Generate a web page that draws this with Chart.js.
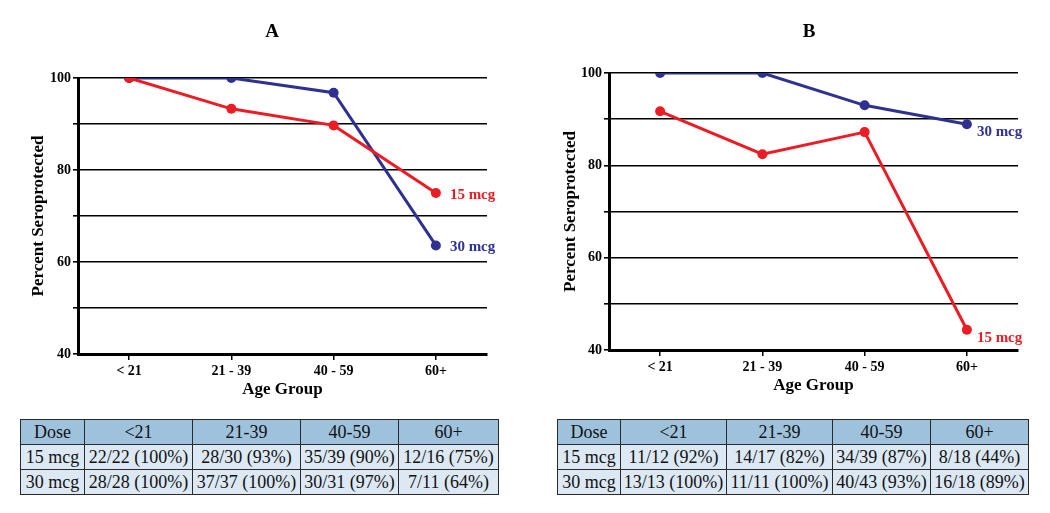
<!DOCTYPE html>
<html>
<head>
<meta charset="utf-8">
<script src="https://cdn.jsdelivr.net/npm/chart.js@4/dist/chart.umd.min.js"></script>
<style>
  body { margin: 0; background: #fff; width: 1050px; height: 513px; position: relative; overflow: hidden; }
  .panel { position: absolute; top: 0; }
  table.dose { position: absolute; border-collapse: collapse; font-family: "Liberation Serif", "Times New Roman", serif; font-size: 18px; color: #111; table-layout: fixed; }
  table.dose td { border: 1.5px solid #2a2a2a; text-align: center; padding: 0; height: 24px; line-height: 24px; white-space: nowrap; background: #dce9f4; }
  table.dose tr.hd td { background: #9fc2dc; }
</style>
</head>
<body>
<canvas id="chartA" class="panel" width="525" height="410" style="left:0"></canvas>
<canvas id="chartB" class="panel" width="525" height="410" style="left:525px"></canvas>
<table id="tabA" class="dose" style="left:20px; top:419px; width:478px"></table>
<table id="tabB" class="dose" style="left:557px; top:419px; width:471px"></table>
<script>
(function () {
  "use strict";
  var COL = { red: "#ec1c24", blue: "#2e3192", ink: "#000" };

  // categories and series (percent seroprotected)
  var ageGroups = ["< 21", "21 - 39", "40 - 59", "60+"];
  var a15 = [100, 93.3, 89.7, 75.0];
  var a30 = [100, 100, 96.8, 63.6];
  var b15 = [91.7, 82.4, 87.2, 44.4];
  var b30 = [100, 100, 93.0, 88.9];

  // table rows
  var tableHead = ["Dose", "<21", "21-39", "40-59", "60+"];
  var tabA15 = ["15 mcg", "22/22 (100%)", "28/30 (93%)", "35/39 (90%)", "12/16 (75%)"];
  var tabA30 = ["30 mcg", "28/28 (100%)", "37/37 (100%)", "30/31 (97%)", "7/11 (64%)"];
  var tabB15 = ["15 mcg", "11/12 (92%)", "14/17 (82%)", "34/39 (87%)", "8/18 (44%)"];
  var tabB30 = ["30 mcg", "13/13 (100%)", "11/11 (100%)", "40/43 (93%)", "16/18 (89%)"];

  var SERIF = "'Liberation Serif', 'Times New Roman', serif";

  // draws the panel letter and the dose labels next to the last points
  var annot = {
    id: "annot",
    afterDatasetsDraw: function (chart, args, o) {
      var ctx = chart.ctx;
      ctx.save();
      ctx.font = "bold 19px " + SERIF;
      ctx.fillStyle = COL.ink;
      ctx.textAlign = "center"; ctx.textBaseline = "middle";
      ctx.fillText(o.letter, o.letterX, 32);
      ctx.font = "bold 15px " + SERIF;
      ctx.textAlign = "left";
      chart.data.datasets.forEach(function (ds, i) {
        var meta = chart.getDatasetMeta(i);
        var pt = meta.data[meta.data.length - 1];
        ctx.fillStyle = ds.borderColor;
        ctx.fillText(ds.label, pt.x + o.dx, pt.y + o.dy[i]);
      });
      ctx.restore();
    }
  };

  function lineChart(id, s15, s30, o) {
    var c = document.getElementById(id);
    new Chart(c, {
      type: "line",
      data: {
        labels: ageGroups,
        datasets: [
          { label: "15 mcg", data: s15, borderColor: COL.red, backgroundColor: COL.red, borderWidth: 3, pointRadius: 5, pointBorderWidth: 0, tension: 0 },
          { label: "30 mcg", data: s30, borderColor: COL.blue, backgroundColor: COL.blue, borderWidth: 3, pointRadius: 5, pointBorderWidth: 0, tension: 0 }
        ]
      },
      plugins: [annot],
      options: {
        responsive: false, animation: false, devicePixelRatio: 1,
        layout: { padding: { left: 0, top: o.top, right: o.right, bottom: 0 } },
        plugins: { legend: { display: false }, tooltip: { enabled: false }, annot: o },
        scales: {
          x: {
            offset: true,
            afterFit: function (s) { s.height = 410 - o.bottom; },
            border: { color: COL.ink, width: 3 },
            grid: { drawOnChartArea: false, drawTicks: true, tickLength: 6, color: COL.ink, lineWidth: 1.5 },
            ticks: { color: COL.ink, font: { family: SERIF, weight: "bold", size: 14 }, padding: 3, maxRotation: 0 },
            title: { display: true, text: "Age Group", color: COL.ink, font: { family: SERIF, weight: "bold", size: 17 }, padding: { top: 0, bottom: o.xtPad } }
          },
          y: {
            min: 40, max: 100,
            afterFit: function (s) { s.width = o.left; },
            border: { color: COL.ink, width: 3 },
            grid: { color: COL.ink, lineWidth: 1.6, tickLength: 5 },
            ticks: { stepSize: 10, color: COL.ink, font: { family: SERIF, weight: "bold", size: 14 }, padding: 2,
              callback: function (v) { return v % 20 === 0 ? v : ""; } },
            title: { display: true, text: "Percent Seroprotected", color: COL.ink, font: { family: SERIF, weight: "bold", size: 17 }, padding: { top: o.ytPad, bottom: 0 } }
          }
        }
      }
    });
  }

  lineChart("chartA", a15, a30, { letter: "A", letterX: 272, left: 78, top: 78, right: 38, bottom: 354, xtPad: 10, ytPad: 28, dx: 14, dy: [2, 2] });
  lineChart("chartB", b15, b30, { letter: "B", letterX: 284, left: 84, top: 73, right: 32, bottom: 350, xtPad: 14, ytPad: 35, dx: 10, dy: [8, 8] });

  function fillTable(id, rows, widths) {
    var t = document.getElementById(id);
    var cg = document.createElement("colgroup");
    widths.forEach(function (w) { var col = document.createElement("col"); col.style.width = w + "px"; cg.appendChild(col); });
    t.appendChild(cg);
    rows.forEach(function (r, i) {
      var tr = document.createElement("tr");
      if (i === 0) tr.className = "hd";
      r.forEach(function (txt) { var td = document.createElement("td"); td.textContent = txt; tr.appendChild(td); });
      t.appendChild(tr);
    });
  }
  fillTable("tabA", [tableHead, tabA15, tabA30], [64, 108, 108, 98, 100]);
  fillTable("tabB", [tableHead, tabB15, tabB30], [63, 106, 106, 98, 98]);
})();
</script>
</body>
</html>
